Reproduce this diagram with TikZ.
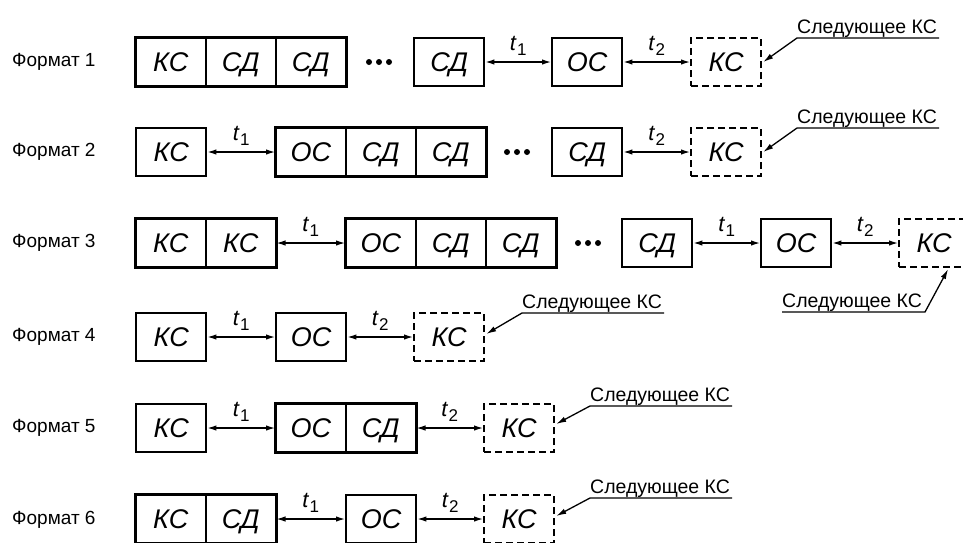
\documentclass[tikz,border=0pt]{standalone}
\usepackage{fontspec}
\setmainfont{Liberation Sans}
\usetikzlibrary{arrows.meta}
\newcommand{\tsub}[1]{\textit{t}\kern0.3pt\raisebox{-4.5pt}{\fontsize{17}{17}\selectfont\upshape #1}}
\begin{document}
\begin{tikzpicture}[x=1pt,y=-1pt,
  cell/.style={draw, line width=1.5pt, minimum width=70pt, minimum height=48pt,
    anchor=west, inner sep=0pt, text height=19pt, text depth=0pt,
    font=\fontsize{27}{27}\selectfont\itshape},
  nextcell/.style={cell, line width=2.2pt, dash pattern=on 7pt off 4pt},
  grp/.style={line width=2.4pt},
  fmt/.style={anchor=west, inner sep=0pt, font=\fontsize{19}{19}\selectfont},
  gap/.style={{Latex[length=9pt,width=5.5pt]}-{Latex[length=9pt,width=5.5pt]}, line width=1.3pt},
  tlab/.style={midway, above=6pt, inner sep=0pt, font=\fontsize{22}{22}\selectfont},
  note/.style={anchor=base west, inner sep=0pt, font=\fontsize{19.5}{19.5}\selectfont},
  ptr/.style={-{Latex[length=10pt,width=5.5pt]}, line width=1.3pt},
  dot/.style={fill=black},
]
\useasboundingbox (0,0) rectangle (963,542);

% ---------- Format 1 ----------
\node[fmt] (f1) at (12,62) {Формат 1};
\node[cell] (a1) at (135,62) {КС};
\node[cell] (a2) at (205,62) {СД};
\node[cell] (a3) at (275,62) {СД};
\draw[grp] (a1.north west) rectangle (a3.south east);
\foreach \dx in {-10,0,10} \fill[dot] (379+\dx,62) circle (3pt);
\node[cell, grp] (a4) at (413,62) {СД};
\node[cell, grp] (a5) at (551,62) {ОС};
\node[nextcell] (a6) at (690,62) {КС};
\draw[gap] (a4.east) -- node[tlab]{\tsub{1}} (a5.west);
\draw[gap] (a5.east) -- node[tlab]{\tsub{2}} (a6.west);
\coordinate (u1) at (797,38);
\node[note] (n1) at (797,33) {Следующее КС};
\draw[ptr] ([xshift=2pt]n1.base east |- u1) -- (u1) -- ([xshift=1pt]a6.east);

% ---------- Format 2 ----------
\node[fmt] (f2) at (12,152) {Формат 2};
\node[cell, grp] (b1) at (135,152) {КС};
\node[cell] (b2) at (275,152) {ОС};
\node[cell] (b3) at (345,152) {СД};
\node[cell] (b4) at (415,152) {СД};
\draw[grp] (b2.north west) rectangle (b4.south east);
\foreach \dx in {-10,0,10} \fill[dot] (517+\dx,152) circle (3pt);
\node[cell, grp] (b5) at (551,152) {СД};
\node[nextcell] (b6) at (690,152) {КС};
\draw[gap] (b1.east) -- node[tlab]{\tsub{1}} (b2.west);
\draw[gap] (b5.east) -- node[tlab]{\tsub{2}} (b6.west);
\coordinate (u2) at (797,128);
\node[note] (n2) at (797,123) {Следующее КС};
\draw[ptr] ([xshift=2pt]n2.base east |- u2) -- (u2) -- ([xshift=1pt]b6.east);

% ---------- Format 3 ----------
\node[fmt] (f3) at (12,243) {Формат 3};
\node[cell] (c1) at (135,243) {КС};
\node[cell] (c2) at (205,243) {КС};
\draw[grp] (c1.north west) rectangle (c2.south east);
\node[cell] (c3) at (345,243) {ОС};
\node[cell] (c4) at (415,243) {СД};
\node[cell] (c5) at (485,243) {СД};
\draw[grp] (c3.north west) rectangle (c5.south east);
\foreach \dx in {-10,0,10} \fill[dot] (588+\dx,243) circle (3pt);
\node[cell, grp] (c6) at (621,243) {СД};
\node[cell, grp] (c7) at (760,243) {ОС};
\node[nextcell] (c8) at (898,243) {КС};
\draw[gap] (c2.east) -- node[tlab]{\tsub{1}} (c3.west);
\draw[gap] (c6.east) -- node[tlab]{\tsub{1}} (c7.west);
\draw[gap] (c7.east) -- node[tlab]{\tsub{2}} (c8.west);
\coordinate (u3) at (925,312);
\node[note] (n3) at (782,307) {Следующее КС};
\draw[ptr] (n3.base west |- u3) -- (u3) -- ([xshift=14pt,yshift=-1pt]c8.south);

% ---------- Format 4 ----------
\node[fmt] (f4) at (12,337) {Формат 4};
\node[cell, grp] (d1) at (135,337) {КС};
\node[cell, grp] (d2) at (275,337) {ОС};
\node[nextcell] (d3) at (413,337) {КС};
\draw[gap] (d1.east) -- node[tlab]{\tsub{1}} (d2.west);
\draw[gap] (d2.east) -- node[tlab]{\tsub{2}} (d3.west);
\coordinate (u4) at (522,313);
\node[note] (n4) at (522,308) {Следующее КС};
\draw[ptr] ([xshift=2pt]n4.base east |- u4) -- (u4) -- ([xshift=1pt,yshift=3pt]d3.east);

% ---------- Format 5 ----------
\node[fmt] (f5) at (12,428) {Формат 5};
\node[cell, grp] (e1) at (135,428) {КС};
\node[cell] (e2) at (275,428) {ОС};
\node[cell] (e3) at (345,428) {СД};
\draw[grp] (e2.north west) rectangle (e3.south east);
\node[nextcell] (e4) at (483,428) {КС};
\draw[gap] (e1.east) -- node[tlab]{\tsub{1}} (e2.west);
\draw[gap] (e3.east) -- node[tlab]{\tsub{2}} (e4.west);
\coordinate (u5) at (590,406);
\node[note] (n5) at (590,401) {Следующее КС};
\draw[ptr] ([xshift=2pt]n5.base east |- u5) -- (u5) -- ([xshift=1pt,yshift=4pt]e4.east);

% ---------- Format 6 ----------
\node[fmt] (f6) at (12,520) {Формат 6};
\node[cell] (g1) at (135,519) {КС};
\node[cell] (g2) at (205,519) {СД};
\draw[grp] (g1.north west) rectangle (g2.south east);
\node[cell, grp] (g3) at (345,519) {ОС};
\node[nextcell] (g4) at (483,519) {КС};
\draw[gap] (g2.east) -- node[tlab]{\tsub{1}} (g3.west);
\draw[gap] (g3.east) -- node[tlab]{\tsub{2}} (g4.west);
\coordinate (u6) at (590,498);
\node[note] (n6) at (590,493) {Следующее КС};
\draw[ptr] ([xshift=2pt]n6.base east |- u6) -- (u6) -- ([xshift=1pt,yshift=3pt]g4.east);
\end{tikzpicture}
\end{document}
